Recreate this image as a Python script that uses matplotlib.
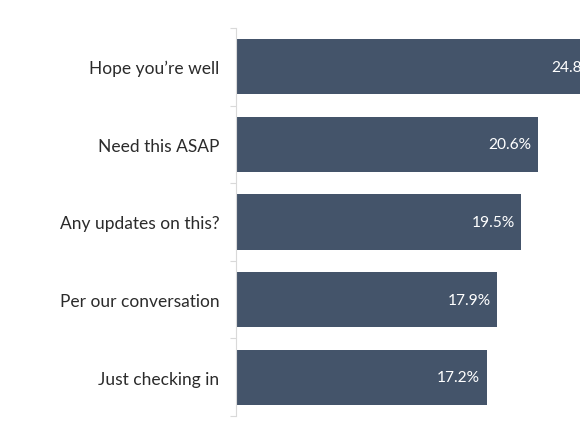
import numpy as np
import matplotlib
matplotlib.use('Agg')
import matplotlib.pyplot as plt

phrases = ['Hope you\u2019re well', 'Need this ASAP', 'Any updates on this?',
           'Per our conversation', 'Just checking in']
shares = [24.8, 20.6, 19.5, 17.9, 17.2]

bar_color = '#44546A'

plt.rcParams['font.family'] = ['Lato', 'DejaVu Sans']

fig = plt.figure(figsize=(5.8, 4.35), dpi=100)
# axes runs past the right edge, like the original where the top bar is cut off
ax = fig.add_axes([236 / 580, 18 / 435, 383 / 580, 388 / 435])

y = np.arange(len(phrases))
ax.barh(y, shares, height=0.71, color=bar_color, left=0)
for yi, v in zip(y, shares):
    ax.text(v - 0.45, yi, '%.1f%%' % v, color='white', ha='right', va='center', fontsize=11.2)

ax.set_xlim(0.47, 26)
ax.set_ylim(len(phrases) - 0.5, -0.5)

ax.set_yticks(y)
ax.set_yticklabels(phrases, fontsize=12.5, color='#2b2b2b')
ax.tick_params(axis='y', which='major', length=0, pad=12)
ax.set_yticks(np.arange(-0.5, len(phrases), 1), minor=True)
ax.tick_params(axis='y', which='minor', length=4, width=0.8, color='#d9d9d9')
ax.set_xticks([])

for side in ['top', 'right', 'bottom']:
    ax.spines[side].set_visible(False)
ax.spines['left'].set_color('#d9d9d9')
ax.spines['left'].set_linewidth(0.8)

fig.savefig('out.png', dpi=100)
